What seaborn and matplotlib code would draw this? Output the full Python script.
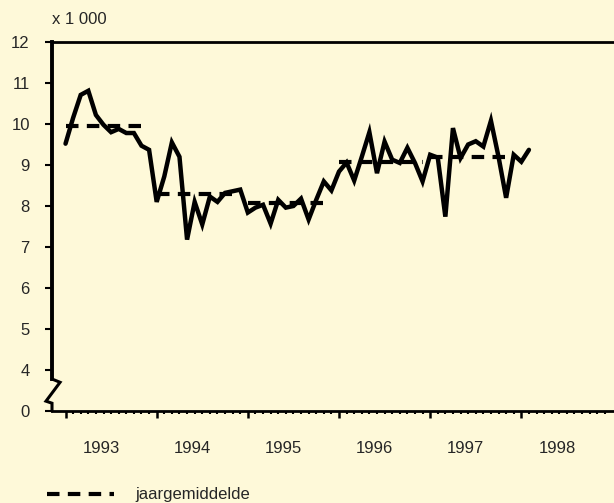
import pandas as pd
import matplotlib.pyplot as plt
import matplotlib.transforms as mtransforms
from matplotlib.lines import Line2D
import seaborn as sns

# monthly values (x 1 000), Jan 1993 - Feb 1998
years = [1993, 1994, 1995, 1996, 1997, 1998]
monthly = [9.52, 10.15, 10.71, 10.81, 10.22, 9.98, 9.80, 9.88, 9.78, 9.78, 9.47, 9.37,
           8.10, 8.72, 9.55, 9.20, 7.18, 8.10, 7.55, 8.23, 8.10, 8.32, 8.36, 8.40,
           7.84, 7.96, 8.03, 7.57, 8.15, 7.96, 8.00, 8.18, 7.67, 8.15, 8.60, 8.38,
           8.84, 9.06, 8.62, 9.20, 9.80, 8.80, 9.57, 9.13, 9.05, 9.42, 9.05, 8.60,
           9.25, 9.18, 7.74, 9.90, 9.17, 9.50, 9.58, 9.45, 10.08, 9.20, 8.20, 9.25,
           9.08, 9.37]
year_avg = [9.95, 8.30, 8.07, 9.08, 9.20]
ytick_vals = [3, 4, 5, 6, 7, 8, 9, 10, 11, 12]
ytick_labels = ['0', '4', '5', '6', '7', '8', '9', '10', '11', '12']

df = pd.DataFrame({'maand': range(len(monthly)), 'waarde': monthly})

sns.set_theme(style='ticks')
plt.rcParams['font.family'] = ['Liberation Sans', 'DejaVu Sans']
bg = '#FEF9D9'
dash = (0, (3, 2))
fs = 12

fig = plt.figure(figsize=(6.14, 5.03), dpi=100, facecolor=bg)
ax = fig.add_axes([52 / 614, 92 / 503, 1 - 52 / 614, 369 / 503])
ax.set_facecolor(bg)

# annual averages, dashed over Jan-Dec of each year
for k, (yr, v) in enumerate(zip(years, year_avg)):
    seg = pd.DataFrame({'maand': [12 * k, 12 * k + 11], 'waarde': [v, v]})
    sns.lineplot(data=seg, x='maand', y='waarde', color='black', lw=3,
                 linestyle=dash, dash_capstyle='butt', ax=ax, legend=False)

sns.lineplot(data=df, x='maand', y='waarde', color='black', lw=3.2, ax=ax,
             solid_joinstyle='miter')

ax.set_xlim(-1.78, 72.2)
ax.set_ylim(3, 12)
ax.set_xlabel('')
ax.set_ylabel('')

ax.set_yticks(ytick_vals)
ax.set_yticklabels(ytick_labels, fontsize=fs)
ax.set_xticks([12 * k for k in range(6)])
ax.set_xticks(range(0, 72), minor=True)
ax.set_xticklabels([])
ax.tick_params(axis='y', length=5, width=1.5, color='black', pad=11)
ax.tick_params(axis='x', which='major', length=5, width=1.8, color='black')
ax.tick_params(axis='x', which='minor', length=2.2, width=1.5, color='black')

ax.spines['right'].set_visible(False)
ax.spines['top'].set_linewidth(2)
ax.spines['bottom'].set_linewidth(2)
ax.spines['left'].set_linewidth(2.8)
ax.spines['left'].set_bounds(3.78, 12)
for s in ax.spines.values():
    s.set_color('black')

# axis break on the y axis
ax.plot([-1.78, -0.72, -2.57, -1.78, -1.78], [3.78, 3.70, 3.24, 3.19, 3.0],
        color='black', lw=2.2, clip_on=False, solid_joinstyle='miter')

trans = mtransforms.blended_transform_factory(ax.transData, ax.transAxes)
for k, yr in enumerate(years):
    ax.text(12 * k + 4.7, -0.102, str(yr), transform=trans, ha='center', va='center', fontsize=fs)

fig.text(52 / 614, 1 - 19 / 503, 'x 1 000', ha='left', va='center', fontsize=fs)

handle = Line2D([], [], color='black', lw=3, linestyle=dash, dash_capstyle='butt')
fig.legend(handles=[handle], labels=['jaargemiddelde'], loc='center left',
           bbox_to_anchor=(47 / 614, 1 - 495 / 503), frameon=False, handlelength=4.0,
           handletextpad=1.3, borderpad=0, borderaxespad=0, fontsize=fs)

fig.savefig('out.png', dpi=100, facecolor=bg)
